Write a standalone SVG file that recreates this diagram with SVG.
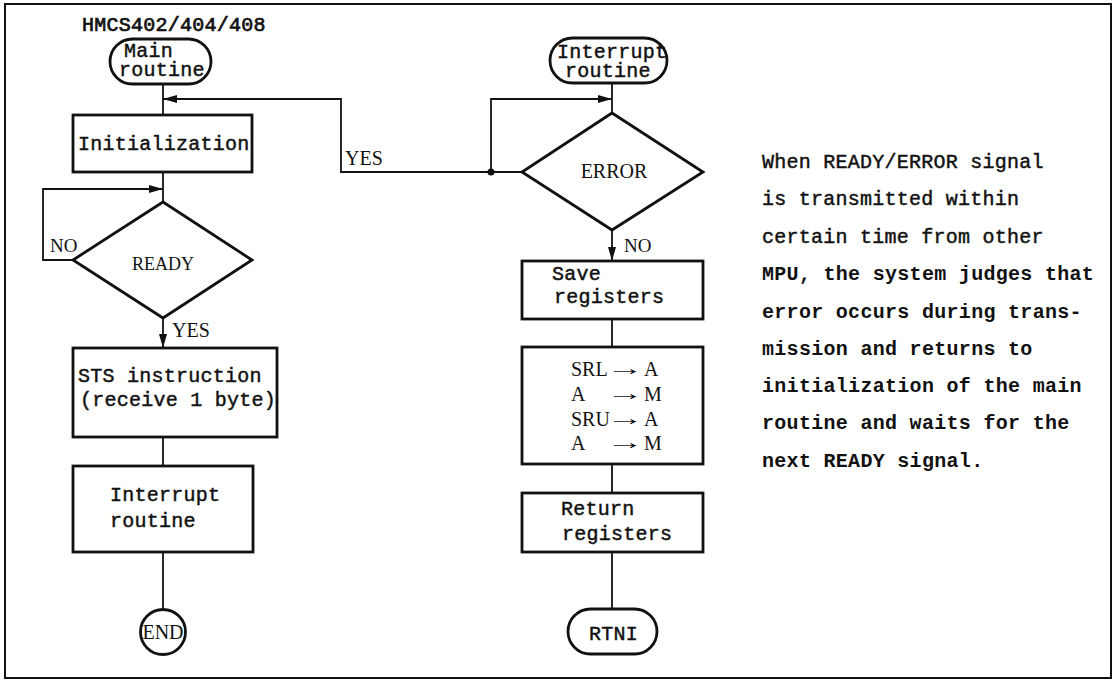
<svg xmlns="http://www.w3.org/2000/svg" width="1116" height="681" viewBox="0 0 1116 681">
  <defs>
    <style>
      .box { fill: #fff; stroke: #111; stroke-width: 2.8; }
      .wire { fill: none; stroke: #111; stroke-width: 1.8; }
      .tw { font-family: "Liberation Mono", "Courier New", monospace; font-size: 20px; fill: #111; stroke: #111; stroke-width: 0.45; letter-spacing: 0.25px; }
      .twb { font-family: "Liberation Mono", "Courier New", monospace; font-size: 20px; font-weight: bold; fill: #111; letter-spacing: 0.3px; }
      .sf { font-family: "Liberation Serif", "Times New Roman", serif; font-size: 20px; fill: #111; }
    </style>
    <marker id="arr" viewBox="0 0 14 8" refX="14" refY="4" markerWidth="14" markerHeight="8" markerUnits="userSpaceOnUse" orient="auto">
      <path d="M0,0 L14,4 L0,8 z" fill="#111"/>
    </marker>
  </defs>

  <rect width="1116" height="681" fill="#fff"/>
  <!-- outer frame -->
  <rect x="5" y="4" width="1106" height="674" fill="none" stroke="#111" stroke-width="2"/>

  <text class="tw" x="82" y="31" style="stroke-width:0.7">HMCS402/404/408</text>

  <!-- connectors -->
  <g id="connectors">
    <line class="wire" x1="163" y1="84" x2="163" y2="115"/>
    <polyline class="wire" points="522,172 341,172 341,99 163,99" marker-end="url(#arr)"/>
    <line class="wire" x1="163" y1="172" x2="163" y2="202"/>
    <polyline class="wire" points="73,260 43,260 43,189 163,189" marker-end="url(#arr)"/>
    <line class="wire" x1="163" y1="318" x2="163" y2="348" marker-end="url(#arr)"/>
    <line class="wire" x1="163" y1="437" x2="163" y2="466"/>
    <line class="wire" x1="163" y1="552" x2="163" y2="609"/>

    <line class="wire" x1="612" y1="83" x2="612" y2="113"/>
    <polyline class="wire" points="491,172 491,99 612,99" marker-end="url(#arr)"/>
    <circle cx="491" cy="172" r="3.5" fill="#111"/>
    <line class="wire" x1="612" y1="230" x2="612" y2="261" marker-end="url(#arr)"/>
    <line class="wire" x1="612" y1="319" x2="612" y2="347"/>
    <line class="wire" x1="612" y1="464" x2="612" y2="493"/>
    <line class="wire" x1="612" y1="552" x2="612" y2="609"/>

    <text class="sf" x="345" y="165">YES</text>
    <text class="sf" x="50" y="252" style="font-size:19px">NO</text>
    <text class="sf" x="172" y="337">YES</text>
    <text class="sf" x="624" y="252" style="font-size:19px">NO</text>
  </g>

  <!-- main routine -->
  <g id="main-start">
    <rect class="box" x="110" y="39" width="101" height="45" rx="22.5"/>
    <text class="tw" x="124" y="57">Main</text>
    <text class="tw" x="119" y="76">routine</text>
  </g>
  <g id="initialization">
    <rect class="box" x="73" y="115" width="179" height="57"/>
    <text class="tw" x="78" y="150">Initialization</text>
  </g>
  <g id="ready">
    <polygon class="box" points="163,202 252,260 163,318 73,260"/>
    <text class="sf" x="163" y="270" text-anchor="middle" style="font-size:18px">READY</text>
  </g>
  <g id="sts">
    <rect class="box" x="73" y="348" width="204" height="89"/>
    <text class="tw" x="78" y="382">STS instruction</text>
    <text class="tw" x="80" y="406">(receive 1 byte)</text>
  </g>
  <g id="interrupt-call">
    <rect class="box" x="73" y="466" width="180" height="86"/>
    <text class="tw" x="110" y="501">Interrupt</text>
    <text class="tw" x="110" y="527">routine</text>
  </g>
  <g id="end">
    <circle class="box" cx="163" cy="632" r="22.5"/>
    <text class="sf" x="163" y="639" text-anchor="middle">END</text>
  </g>

  <!-- interrupt routine -->
  <g id="int-start">
    <rect class="box" x="550" y="38" width="117" height="45" rx="22.5"/>
    <text class="tw" x="557" y="58">Interrupt</text>
    <text class="tw" x="565" y="77">routine</text>
  </g>
  <g id="error">
    <polygon class="box" points="612,113 703,172 612,230 522,172"/>
    <text class="sf" x="614" y="178" text-anchor="middle">ERROR</text>
  </g>
  <g id="save">
    <rect class="box" x="522" y="261" width="181" height="58"/>
    <text class="tw" x="552" y="280">Save</text>
    <text class="tw" x="554" y="303">registers</text>
  </g>
  <g id="transfer">
    <rect class="box" x="522" y="347" width="181" height="117"/>
    <g class="sf">
      <text x="571" y="376">SRL</text><text text-anchor="middle" transform="translate(625,375) scale(1.9,1)">→</text><text x="644" y="376">A</text>
      <text x="571" y="401">A</text><text text-anchor="middle" transform="translate(625,400) scale(1.9,1)">→</text><text x="644" y="401">M</text>
      <text x="571" y="426">SRU</text><text text-anchor="middle" transform="translate(625,425) scale(1.9,1)">→</text><text x="644" y="426">A</text>
      <text x="571" y="450">A</text><text text-anchor="middle" transform="translate(625,449) scale(1.9,1)">→</text><text x="644" y="450">M</text>
    </g>
  </g>
  <g id="return">
    <rect class="box" x="522" y="493" width="181" height="59"/>
    <text class="tw" x="561" y="515">Return</text>
    <text class="tw" x="562" y="540">registers</text>
  </g>
  <g id="rtni">
    <rect class="box" x="568" y="609" width="89" height="45" rx="22.5"/>
    <text class="tw" x="589" y="640">RTNI</text>
  </g>

  <!-- explanatory note -->
  <g id="note">
    <text class="tw" x="762" y="168">When READY/ERROR signal</text>
    <text class="tw" x="762" y="205">is transmitted within</text>
    <text class="tw" x="762" y="243">certain time from other</text>
    <text class="twb" x="762" y="280">MPU, the system judges that</text>
    <text class="twb" x="762" y="318">error occurs during trans-</text>
    <text class="twb" x="762" y="355">mission and returns to</text>
    <text class="twb" x="762" y="392">initialization of the main</text>
    <text class="twb" x="762" y="429">routine and waits for the</text>
    <text class="twb" x="762" y="467">next READY signal.</text>
  </g>
</svg>
